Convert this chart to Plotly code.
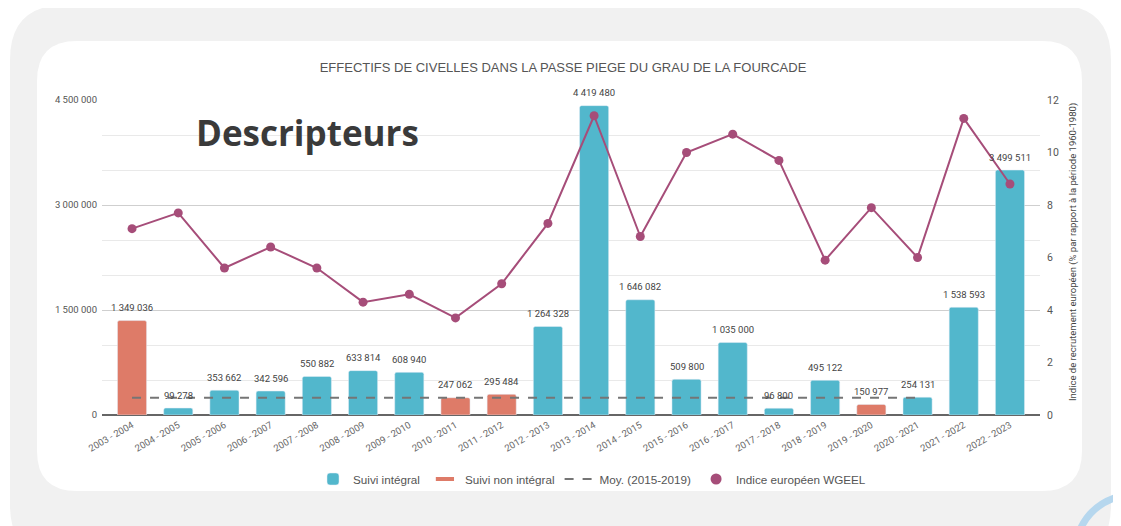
import plotly.graph_objects as go

categories = ["2003 - 2004", "2004 - 2005", "2005 - 2006", "2006 - 2007", "2007 - 2008",
              "2008 - 2009", "2009 - 2010", "2010 - 2011", "2011 - 2012", "2012 - 2013",
              "2013 - 2014", "2014 - 2015", "2015 - 2016", "2016 - 2017", "2017 - 2018",
              "2018 - 2019", "2019 - 2020", "2020 - 2021", "2021 - 2022", "2022 - 2023"]
effectifs = [1349036, 99278, 353662, 342596, 550882, 633814, 608940, 247062, 295484, 1264328,
             4419480, 1646082, 509800, 1035000, 96800, 495122, 150977, 254131, 1538593, 3499511]
integral = [False, True, True, True, True, True, True, False, False, True,
            True, True, True, True, True, True, False, True, True, True]
moyenne = [248000, 248000, 248000, 248000, 248000, 248000, 248000, 248000, 248000, 248000,
           248000, 248000, 248000, 248000, 248000, 248000, 248000, 248000, None, None]
wgeel = [7.1, 7.7, 5.6, 6.4, 5.6, 4.3, 4.6, 3.7, 5.0, 7.3,
         11.4, 6.8, 10.0, 10.7, 9.7, 5.9, 7.9, 6.0, 11.3, 8.8]

TEAL = "#52B7CC"
SALMON = "#DE7B68"
PURPLE = "#A64D79"
GREY = "#757575"

# page geometry (the page body has an 8px margin)
OFF = 8
PAGE_W, PAGE_H = 1121, 526
W, H = PAGE_W - OFF, PAGE_H - OFF
PL, PR, PT, PB = 102, 1040, 100, 415      # plot area in page pixels
PW, PH = PR - PL, PB - PT
L, T = PL - OFF, PT - OFF
R, B = W - (PR - OFF), H - (PB - OFF)


def px(x):
    return (x - PL) / PW


def py(y):
    return (PB - y) / PH


def rrect(x0, y0, x1, y1, r):
    pts = [
        ("M", [(x0 + r, y0)]),
        ("L", [(x1 - r, y0)]),
        ("Q", [(x1, y0), (x1, y0 + r)]),
        ("L", [(x1, y1 - r)]),
        ("Q", [(x1, y1), (x1 - r, y1)]),
        ("L", [(x0 + r, y1)]),
        ("Q", [(x0, y1), (x0, y1 - r)]),
        ("L", [(x0, y0 + r)]),
        ("Q", [(x0, y0), (x0 + r, y0)]),
    ]
    s = ""
    for cmd, ps in pts:
        s += cmd + " ".join(f"{px(a):.5f},{py(b):.5f}" for a, b in ps) + " "
    return s + "Z"


def fmt(v):
    return f"{v:,}".replace(",", " ")


fig = go.Figure()

fig.add_trace(go.Bar(
    x=categories, y=[v if i else None for v, i in zip(effectifs, integral)],
    name="Suivi intégral", marker=dict(color=TEAL, cornerradius=2),
    width=0.63, yaxis="y", hoverinfo="skip"))
fig.add_trace(go.Bar(
    x=categories, y=[None if i else v for v, i in zip(effectifs, integral)],
    name="Suivi non intégral", marker=dict(color=SALMON, cornerradius=2),
    width=0.63, yaxis="y", showlegend=False, hoverinfo="skip"))
fig.add_trace(go.Scatter(
    x=[None], y=[None], mode="markers", name="Suivi non intégral",
    marker=dict(symbol="line-ew", size=13, color=SALMON, line=dict(color=SALMON, width=4))))
fig.add_trace(go.Scatter(
    x=categories, y=moyenne, mode="lines", name="Moy. (2015-2019)",
    line=dict(color=GREY, width=2, dash="dash"), yaxis="y", hoverinfo="skip"))
fig.add_trace(go.Scatter(
    x=categories, y=wgeel, mode="lines+markers", name="Indice européen WGEEL",
    line=dict(color=PURPLE, width=2), marker=dict(color=PURPLE, size=9),
    yaxis="y2", showlegend=False, hoverinfo="skip"))
fig.add_trace(go.Scatter(
    x=[None], y=[None], mode="markers", name="Indice européen WGEEL",
    marker=dict(color=PURPLE, size=11), yaxis="y2"))

annotations = []
for c, v in zip(categories, effectifs):
    annotations.append(dict(x=c, y=v, xref="x", yref="y", text=fmt(v), showarrow=False,
                            yshift=13, font=dict(family="Roboto", size=9.5, color="#444")))

annotations.append(dict(x=px(307), y=py(133), xref="paper", yref="paper", text="<b>Descripteurs</b>",
                        showarrow=False, xanchor="center", yanchor="middle",
                        font=dict(family="Open Sans", size=35, color="#3a3a3a")))
annotations.append(dict(x=px(1073), y=py(252), xref="paper", yref="paper",
                        text="Indice de recrutement européen (% par rapport à la période 1960-1980)",
                        textangle=-90, showarrow=False, xanchor="center", yanchor="middle",
                        font=dict(family="Roboto", size=9.5, color="#444")))

shapes = [
    dict(type="path", path=rrect(10, 5, 1111, 560, 55), xref="paper", yref="paper",
         fillcolor="#f1f1f1", line=dict(width=0), layer="below"),
    dict(type="path", path=rrect(37, 41, 1082, 491, 40), xref="paper", yref="paper",
         fillcolor="white", line=dict(width=0), layer="below"),
    dict(type="path",
         path=f"M{px(1079):.5f},{py(532):.5f} Q{px(1092):.5f},{py(500):.5f} {px(1130):.5f},{py(494):.5f}",
         xref="paper", yref="paper", line=dict(color="#b6d7ee", width=7), layer="above"),
]

fig.update_layout(
    width=W, height=H,
    margin=dict(l=L, r=R, t=T, b=B, pad=0),
    paper_bgcolor="white", plot_bgcolor="rgba(0,0,0,0)",
    separators=", ",
    barmode="overlay",
    title=dict(text="EFFECTIFS DE CIVELLES DANS LA PASSE PIEGE DU GRAU DE LA FOURCADE",
               x=(563 - OFF) / W, y=1 - (67 - OFF) / H, xref="container", yref="container",
               xanchor="center", yanchor="middle",
               font=dict(family="Liberation Sans", size=13, color="#555")),
    xaxis=dict(type="category", range=[-0.65, 19.65], tickangle=-30,
               tickfont=dict(family="Roboto", size=9.5, color="#666"),
               showgrid=False, zeroline=False, showline=False, ticks="",
               ticklabelstandoff=2),
    yaxis=dict(range=[0, 4500000], dtick=1500000, tick0=0, tickformat=",d",
               tickfont=dict(family="Roboto", size=9.5, color="#555"),
               showgrid=True, gridcolor="#cfcfcf", gridwidth=1,
               minor=dict(dtick=500000, tick0=0, showgrid=True, gridcolor="#e9e9e9", gridwidth=1),
               zeroline=True, zerolinecolor="#666", zerolinewidth=1.5,
               showline=False, ticks="", ticklabelstandoff=4),
    yaxis2=dict(range=[0, 12], dtick=2, tick0=0, overlaying="y", side="right",
                tickfont=dict(family="Roboto", size=10.5, color="#555"),
                showgrid=False, zeroline=False, showline=False, ticks="",
                ticklabelstandoff=6),
    legend=dict(orientation="h", x=px(592), y=py(479), xanchor="center", yanchor="middle",
                font=dict(family="Liberation Sans", size=11.7, color="#555"),
                bgcolor="rgba(0,0,0,0)", itemwidth=30, traceorder="normal"),
    annotations=annotations,
    shapes=shapes,
    showlegend=True,
)

fig.write_html("out.html")
